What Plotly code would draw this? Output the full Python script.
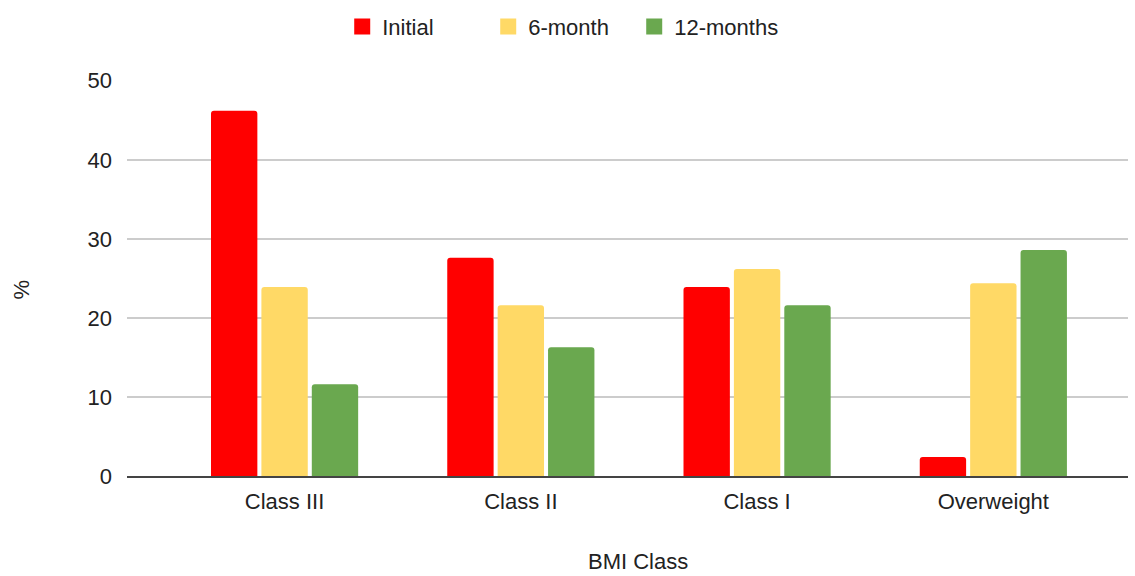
import plotly.graph_objects as go

categories = ["Class III", "Class II", "Class I", "Overweight"]
initial = [46.2, 27.6, 23.9, 2.4]
six_month = [23.9, 21.6, 26.2, 24.4]
twelve_months = [11.6, 16.3, 21.6, 28.6]
y_ticks = [0, 10, 20, 30, 40, 50]

series = [
    ("Initial", initial, "#ff0000"),
    ("6-month", six_month, "#ffd966"),
    ("12-months", twelve_months, "#6aa84f"),
]

font_family = "Liberation Sans, Arial, sans-serif"
text_color = "#222222"
fsize = 22

fig = go.Figure()
for name, values, color in series:
    fig.add_trace(go.Bar(
        name=name,
        x=categories,
        y=values,
        marker=dict(color=color, line=dict(width=0)),
        showlegend=False,
        legendgroup=name,
    ))

# Larger square swatches for the legend
for name, values, color in series:
    fig.add_trace(go.Scatter(
        name=name,
        x=[None],
        y=[None],
        mode="markers",
        marker=dict(symbol="square", size=16, color=color),
        legendgroup=name,
        showlegend=True,
    ))

fig.update_layout(
    width=1135,
    height=576,
    barmode="group",
    bargap=0.36,
    bargroupgap=0.08,
    barcornerradius=3,
    plot_bgcolor="white",
    paper_bgcolor="white",
    margin=dict(l=127, r=7, t=80, b=100, autoexpand=False),
    font=dict(family=font_family, size=fsize, color=text_color),
    legend=dict(
        orientation="h",
        x=0.215, xanchor="left",
        y=0.99, yanchor="top",
        yref="container",
        font=dict(size=fsize, color=text_color),
        traceorder="normal",
        itemwidth=30,
        entrywidth=101,
        entrywidthmode="pixels",
    ),
    xaxis=dict(
        range=[-0.667, 3.57],
        automargin=False,
        showgrid=False,
        ticks="",
        ticklabelstandoff=5,
        tickfont=dict(size=fsize, color=text_color),
        showline=True,
        linecolor="#444444",
        linewidth=2,
    ),
    yaxis=dict(
        range=[0, 50.1],
        automargin=False,
        tickvals=y_ticks,
        showgrid=True,
        gridcolor="#cccccc",
        gridwidth=1.5,
        zeroline=False,
        ticks="",
        ticklabelstandoff=14,
        tickfont=dict(size=fsize, color=text_color),
    ),
    annotations=[
        dict(
            text="%",
            textangle=-90,
            xref="paper", yref="paper",
            x=-0.105, y=0.471,
            xanchor="center", yanchor="middle",
            showarrow=False,
            font=dict(size=fsize, color=text_color),
        ),
        dict(
            text="BMI Class",
            xref="paper", yref="paper",
            x=0.51, y=-0.216,
            xanchor="center", yanchor="middle",
            showarrow=False,
            font=dict(size=fsize, color=text_color),
        ),
    ],
)

fig.write_html("out.html")
